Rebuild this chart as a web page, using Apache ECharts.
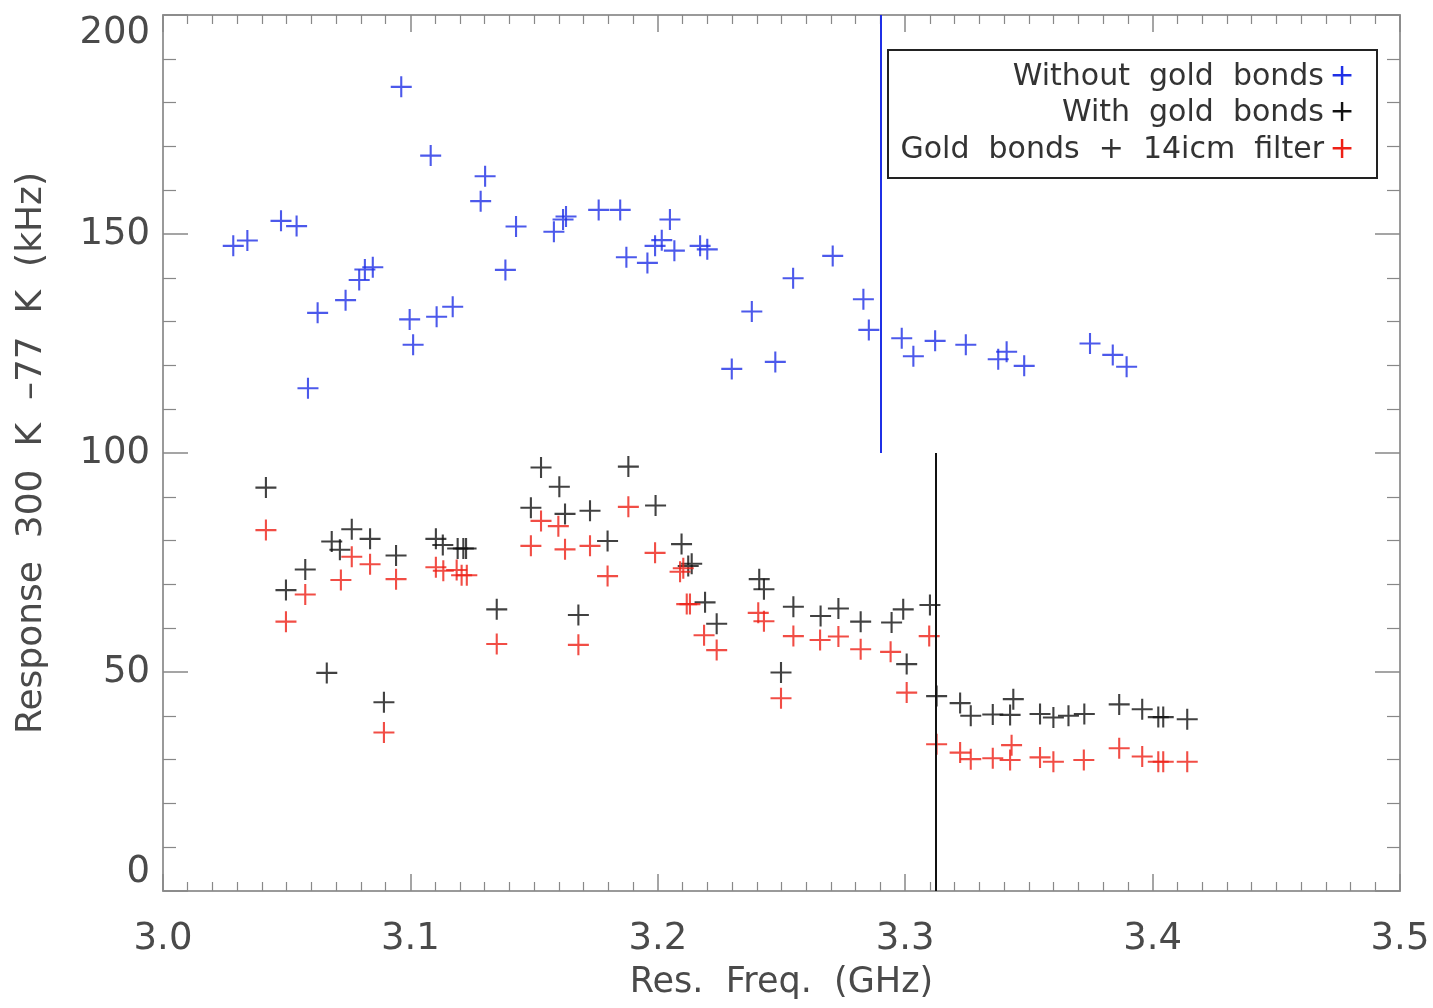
<!DOCTYPE html>
<html>
<head>
<meta charset="utf-8">
<script src="https://cdn.jsdelivr.net/npm/echarts@6/dist/echarts.min.js"></script>
<style>html,body{margin:0;padding:0;background:#fff}#c{width:1433px;height:1008px}</style>
</head>
<body>
<div id="c"></div>
<script>
const xTickLabels = ['3.0','3.1','3.2','3.3','3.4','3.5'];
const legendLabels = ['Without  gold  bonds','With  gold  bonds','Gold  bonds  +  14icm  filter'];

const blueX = [3.0284,3.0341,3.0477,3.0540,3.0586,3.0625,3.0738,3.0793,3.0816,3.0848,3.0963,3.0997,3.1011,3.1082,3.1106,3.1171,3.1284,3.1302,3.1384,3.1427,3.1580,3.1617,3.1629,3.1761,3.1848,3.1873,3.1958,3.1989,3.2016,3.2049,3.2067,3.2171,3.2200,3.2299,3.2380,3.2475,3.2547,3.2707,3.2831,3.2853,3.2986,3.3033,3.3121,3.3245,3.3376,3.3410,3.3481,3.3747,3.3839,3.3895];
const blueY = [147.3,148.5,153.0,151.8,114.8,132.0,134.9,139.5,141.9,142.4,183.6,130.5,124.7,167.9,131.1,133.4,157.5,163.2,141.8,151.7,150.5,153.3,154.0,155.5,155.5,144.7,143.4,147.3,148.6,153.3,146.2,147.3,146.5,119.2,132.3,120.8,139.9,145.0,135.1,128.1,126.2,122.1,125.6,124.7,121.4,123.1,119.9,125.0,122.4,119.7];

const blackX = [3.0416,3.0497,3.0575,3.0662,3.0682,3.0715,3.0763,3.0837,3.0893,3.0942,3.1103,3.1131,3.1191,3.1214,3.1225,3.1349,3.1487,3.1528,3.1602,3.1625,3.1679,3.1726,3.1797,3.1881,3.1991,3.2096,3.2123,3.2137,3.2191,3.2238,3.2410,3.2429,3.2498,3.2548,3.2658,3.2730,3.2820,3.2945,3.2992,3.3006,3.3100,3.3127,3.3222,3.3265,3.3354,3.3424,3.3437,3.3545,3.3599,3.3660,3.3724,3.3865,3.3958,3.4023,3.4043,3.4140];
const blackY = [92.1,68.7,73.4,49.8,79.8,77.9,82.6,80.4,43.1,76.6,80.4,79.0,78.2,78.2,78.2,64.3,87.5,96.7,92.3,86.1,63.0,86.8,79.9,96.9,88.0,79.2,74.2,74.7,65.9,61.0,71.2,68.9,49.9,64.9,62.8,64.5,61.5,61.3,64.3,51.8,65.3,44.5,42.9,40.0,40.3,40.2,43.8,40.4,39.6,40.0,40.4,42.6,41.5,39.7,39.7,39.2];

const redX = [3.0416,3.0497,3.0575,3.0719,3.0763,3.0837,3.0893,3.0942,3.1103,3.1133,3.1187,3.1207,3.1228,3.1349,3.1487,3.1528,3.1598,3.1625,3.1679,3.1726,3.1797,3.1881,3.1989,3.2090,3.2103,3.2117,3.2130,3.2187,3.2238,3.2406,3.2429,3.2498,3.2548,3.2656,3.2730,3.2820,3.2941,3.3006,3.3097,3.3127,3.3222,3.3265,3.3354,3.3424,3.3430,3.3545,3.3599,3.3722,3.3865,3.3958,3.4023,3.4043,3.4140];
const redY = [82.4,61.5,67.7,71.0,76.3,74.6,36.2,71.2,73.9,73.1,73.3,72.1,72.1,56.4,78.8,84.5,83.3,78.0,56.2,78.8,71.9,87.7,77.2,72.9,73.7,65.5,65.5,58.4,55.0,63.5,61.6,44.0,58.2,57.3,58.1,55.2,54.6,45.3,58.2,33.5,31.6,30.1,30.3,29.9,33.3,30.5,29.5,29.9,32.6,30.7,29.5,29.5,29.5];

const blueLineX = 3.29, blueLineY = [100, 200];
const blackLineX = 3.3123, blackLineY = [0, 100];

const colors = {blue:'#1f30e6', black:'#111111', red:'#ee2016'};
const plus = 'path://M4.5,0H5.5V4.5H10V5.5H5.5V10H4.5V5.5H0V4.5H4.5Z';
const FONT = '"DejaVu Sans", "Liberation Sans", sans-serif';

function zip(xs, ys){ return xs.map((x,i)=>[x, ys[i]]); }

const chart = echarts.init(document.getElementById('c'), null, {renderer:'canvas'});

function xAx(pos, showLabel){
  return {
    type:'value', min:3.0, max:3.5, interval:0.1, position:pos,
    axisLine:{show:true, onZero:false, lineStyle:{color:'#9a9a9a', width:2}},
    axisTick:{show:true, inside:true, length:17, lineStyle:{color:'#888', width:1.5}},
    minorTick:{show:true, splitNumber:10, length:9, lineStyle:{color:'#888', width:1.2}},
    splitLine:{show:false},
    axisLabel:{show:showLabel, margin:30, fontSize:37, color:'#4a4a4a', fontFamily:FONT,
      formatter:(v)=>xTickLabels[Math.round((v-3.0)*10)] || ''},
    name: showLabel ? 'Res.  Freq.  (GHz)' : '',
    nameLocation:'middle', nameGap:74,
    nameTextStyle:{fontSize:35, color:'#4a4a4a', fontFamily:FONT}
  };
}
function yAx(pos, showLabel){
  return {
    type:'value', min:0, max:200, interval:50, position:pos,
    axisLine:{show:true, onZero:false, lineStyle:{color:'#9a9a9a', width:2}},
    axisTick:{show:true, inside:true, length:25, lineStyle:{color:'#888', width:1.5}},
    minorTick:{show:true, splitNumber:5, length:13, lineStyle:{color:'#888', width:1.2}},
    splitLine:{show:false},
    axisLabel:{show:showLabel, margin:13, fontSize:37, color:'#4a4a4a', fontFamily:FONT,
      verticalAlignMinLabel:'bottom', verticalAlignMaxLabel:'top'},
    name: showLabel ? 'Response  300  K  \u201377  K  (kHz)' : '',
    nameLocation:'middle', nameGap:113, nameRotate:90,
    nameTextStyle:{fontSize:36, color:'#4a4a4a', fontFamily:FONT}
  };
}

function sc(name, xs, ys, color, line){
  const s = {
    name, type:'scatter', xAxisIndex:0, yAxisIndex:0,
    data: zip(xs, ys), symbol: plus, symbolSize: 21,
    itemStyle:{color}, silent:true, animation:false
  };
  if (line){
    s.markLine = {
      silent:true, symbol:'none', animation:false, label:{show:false},
      lineStyle:{color, width:2, type:'solid'},
      data:[[ {coord:[line.x, line.y[0]]}, {coord:[line.x, line.y[1]]} ]]
    };
  }
  return s;
}

const legendX = 888, legendY = 50, legendW = 489, legendH = 128;
const legendColors = [colors.blue, colors.black, colors.red];
const legendRows = [77, 113, 150];
const graphics = [{
  type:'rect', shape:{x:legendX, y:legendY, width:legendW, height:legendH},
  style:{fill:'#fff', stroke:'#222', lineWidth:2}, z:100
}];
legendLabels.forEach((t,i)=>{
  graphics.push({type:'text', x:1324, y:legendRows[i], z:101,
    style:{text:t, fill:'#333', font:'30px ' + FONT, textAlign:'right', textVerticalAlign:'middle'}});
  graphics.push({type:'text', x:1342, y:legendRows[i], z:101,
    style:{text:'+', fill:legendColors[i], font:'30px ' + FONT, textAlign:'center', textVerticalAlign:'middle'}});
});

chart.setOption({
  animation:false,
  backgroundColor:'#fff',
  grid:{left:163, right:33, top:15, bottom:117, containLabel:false},
  xAxis:[xAx('bottom', true), xAx('top', false)],
  yAxis:[yAx('left', true), yAx('right', false)],
  series:[
    sc('Without gold bonds', blueX, blueY, colors.blue, {x:blueLineX, y:blueLineY}),
    sc('With gold bonds', blackX, blackY, colors.black, {x:blackLineX, y:blackLineY}),
    sc('Gold bonds + 14icm filter', redX, redY, colors.red, null)
  ],
  graphic: graphics
});
</script>
</body>
</html>
